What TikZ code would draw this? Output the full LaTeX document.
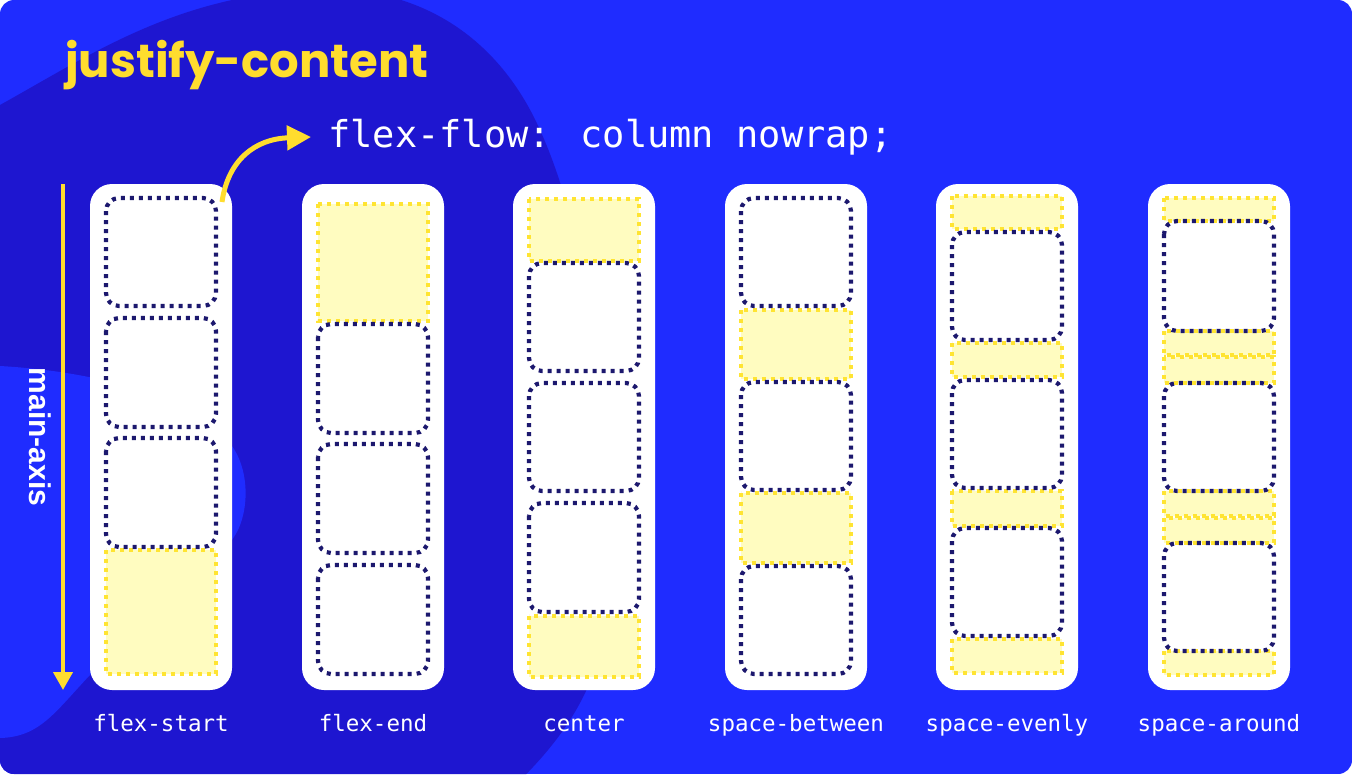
\documentclass[tikz,border=0pt]{standalone}
\usepackage{fontspec}
\usetikzlibrary{arrows.meta}
\newfontfamily\titlefont{Poppins}
\newfontfamily\codefont{DejaVu Sans Mono}
\newfontfamily\axisfont{Liberation Sans}
\definecolor{bgblue}{RGB}{31,44,255}
\definecolor{deepblue}{RGB}{30,22,208}
\definecolor{navy}{RGB}{28,24,110}
\definecolor{sun}{RGB}{255,221,46}
\definecolor{cream}{RGB}{255,252,192}
\definecolor{dotyellow}{RGB}{255,228,50}

% one flex item (navy dotted box) and one slice of free space (yellow)
\newcommand\navybox[3]{\draw[itembox] ({#1+16},#2) rectangle ({#1+126},#3);}
\newcommand\gapbox[3]{\draw[gapfill] ({#1+16},#2) rectangle ({#1+126},#3);}

\tikzset{
  column/.style={fill=white, rounded corners=22pt, minimum width=142pt,
    minimum height=506pt, inner sep=0pt, draw=none},
  itembox/.style={draw=navy, line width=4.2pt, dash pattern=on 4pt off 5pt,
    rounded corners=13pt},
  gapfill/.style={fill=cream, draw=dotyellow, line width=3.8pt,
    dash pattern=on 3.8pt off 5.2pt},
  colname/.style={text=white, font=\codefont\fontsize{22.5}{26}\selectfont,
    anchor=base, inner sep=0pt},
  sunarrow/.style={draw=sun, line width=5pt},
}

\begin{document}
\begin{tikzpicture}[x=1pt,y=-1pt]
\useasboundingbox (0,0) rectangle (1352,774);
% backdrop
\begin{scope}
  \clip[rounded corners=14pt] (0,0) rectangle (1352,774);
  \fill[bgblue] (0,0) rectangle (1352,774);
  \fill[deepblue] (0,105) .. controls (90,55) and (170,0) .. (300,-10)
    .. controls (420,-20) and (500,40) .. (540,130)
    .. controls (590,240) and (610,420) .. (608,560)
    .. controls (612,650) and (590,715) .. (510,790)
    -- (0,790) -- cycle;
  \fill[bgblue] (0,366) .. controls (70,370) and (160,385) .. (215,430)
    .. controls (248,450) and (252,500) .. (238,530)
    .. controls (225,555) and (200,575) .. (170,600)
    -- (90,675) .. controls (55,712) and (40,737) .. (0,738) -- cycle;
\end{scope}

% title and code line
\node[anchor=base west, inner sep=0pt, text=sun,
  font=\titlefont\bfseries\fontsize{46.5}{50}\selectfont] (title) at (65,77) {justify-content};
\node[anchor=base west, inner sep=0pt, text=white,
  font=\codefont\fontsize{37}{40}\selectfont] (code) at (328,147) {flex-flow: column nowrap;};

% main axis
\coordinate (ax0) at (63,184);
\coordinate (ax1) at (63,690);
\draw[sunarrow, line width=4pt, -{Triangle[length=18pt,width=19pt]}] (ax0) -- (ax1);
\node[rotate=-90, text=white, font=\axisfont\bfseries\fontsize{30}{32}\selectfont,
  inner sep=0pt] (axis) at (40,437) {main-axis};

% containers
\node[column] (c1) at (161,437) {};
\node[column] (c2) at (373,437) {};
\node[column] (c3) at (584,437) {};
\node[column] (c4) at (796,437) {};
\node[column] (c5) at (1007,437) {};
\node[column] (c6) at (1219,437) {};

% flex-start
\gapbox{90}{550}{674}
\navybox{90}{198}{306}
\navybox{90}{318}{427}
\navybox{90}{438}{547}
% flex-end
\gapbox{302}{204}{321}
\navybox{302}{324}{433}
\navybox{302}{444}{553}
\navybox{302}{565}{674}
% center
\gapbox{513}{199}{261}
\gapbox{513}{616}{677}
\navybox{513}{263}{371}
\navybox{513}{383}{491}
\navybox{513}{503}{612}
% space-between
\gapbox{725}{310}{379}
\gapbox{725}{493}{563}
\navybox{725}{198}{306}
\navybox{725}{382}{490}
\navybox{725}{566}{674}
% space-evenly
\gapbox{936}{196}{229}
\gapbox{936}{343}{377}
\gapbox{936}{491}{526}
\gapbox{936}{639}{673}
\navybox{936}{232}{340}
\navybox{936}{380}{488}
\navybox{936}{528}{636}
% space-around
\gapbox{1148}{198}{221}
\gapbox{1148}{331}{355}
\gapbox{1148}{357}{383}
\gapbox{1148}{491}{516}
\gapbox{1148}{518}{543}
\gapbox{1148}{651}{675}
\navybox{1148}{221}{331}
\navybox{1148}{383}{491}
\navybox{1148}{543}{651}

% captions
\node[colname] (n1) at (161,731) {flex-start};
\node[colname] (n2) at (373,731) {flex-end};
\node[colname] (n3) at (584,731) {center};
\node[colname] (n4) at (796,731) {space-between};
\node[colname] (n5) at (1007,731) {space-evenly};
\node[colname] (n6) at (1219,731) {space-around};

% curved pointer from the first container to the code line
\coordinate (p0) at (222,202);
\coordinate (p1) at (311,137);
\draw[sunarrow, -{Triangle[length=24pt,width=24pt]}] (p0) .. controls (228,160) and (255,139) .. (p1);
\end{tikzpicture}
\end{document}
